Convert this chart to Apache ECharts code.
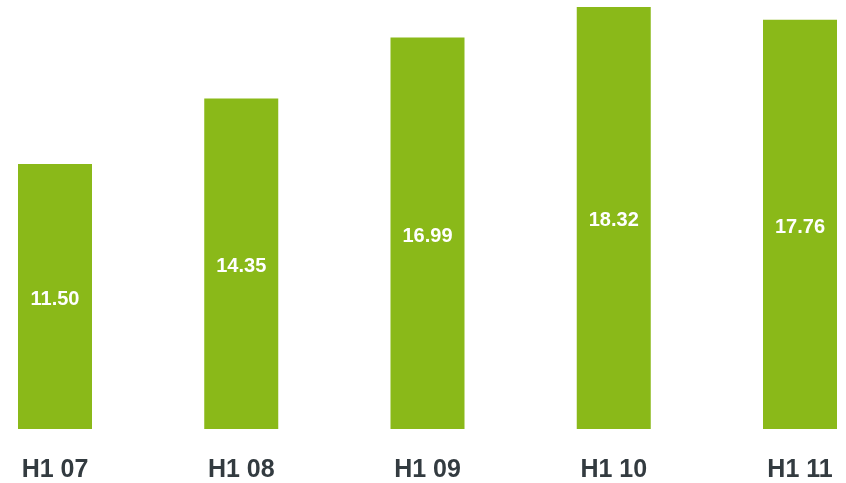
<!DOCTYPE html>
<html>
<head>
<meta charset="utf-8">
<script src="https://cdn.jsdelivr.net/npm/echarts@6/dist/echarts.min.js"></script>
<style>html,body{margin:0;padding:0;background:#fff}#c{width:846px;height:483px}</style>
</head>
<body>
<div id="c"></div>
<script>
const categories = ['H1 07', 'H1 08', 'H1 09', 'H1 10', 'H1 11'];
const values = [11.50, 14.35, 16.99, 18.32, 17.76];

const chart = echarts.init(document.getElementById('c'), null, {renderer: 'canvas'});
chart.setOption({
  animation: false,
  grid: {left: 55, right: 46, top: 0, bottom: 53, containLabel: false},
  xAxis: {
    type: 'category',
    data: categories,
    boundaryGap: false,
    axisLine: {show: false},
    axisTick: {show: false},
    axisLabel: {
      margin: 29,
      fontFamily: 'Liberation Sans, Arial, sans-serif',
      fontSize: 25,
      fontWeight: 'bold',
      color: '#333b40'
    }
  },
  yAxis: {
    type: 'value',
    min: 0,
    max: 18.62,
    show: false,
    splitLine: {show: false}
  },
  series: [{
    type: 'bar',
    data: values,
    barWidth: 74,
    clip: false,
    itemStyle: {color: '#8ab919'},
    label: {
      show: true,
      position: 'inside',
      offset: [0, 3],
      formatter: p => p.value.toFixed(2),
      fontFamily: 'Liberation Sans, Arial, sans-serif',
      fontSize: 20,
      fontWeight: 'bold',
      color: '#ffffff'
    }
  }]
});
</script>
</body>
</html>
